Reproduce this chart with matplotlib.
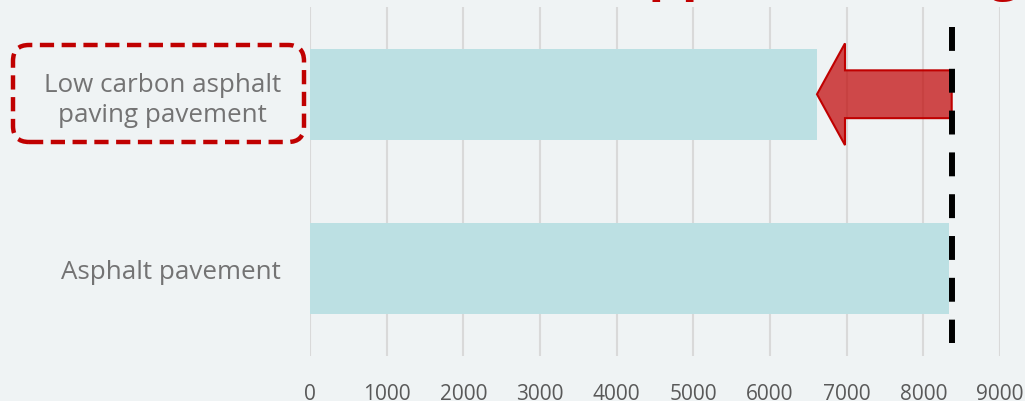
import matplotlib.pyplot as plt
from matplotlib.patches import FancyArrow, FancyBboxPatch

# pavement types and their values
categories = ['Low carbon asphalt\npaving pavement', 'Asphalt pavement']
values = [6613, 8334]
reference_level = 8370
ticks = [0, 1000, 2000, 3000, 4000, 5000, 6000, 7000, 8000, 9000]

bg = '#EFF3F4'
plt.rcParams['font.family'] = ['Open Sans', 'DejaVu Sans']

W, H = 1025, 402
fig = plt.figure(figsize=(W / 100, H / 100), dpi=100, facecolor=bg)
ax = fig.add_axes([310 / W, 1 - 357 / H, 690 / W, 349 / H], facecolor=bg)

ax.barh(range(len(categories)), values, height=0.52, color='#BCE0E3', zorder=2)

ax.set_xlim(0, 9000)
ax.set_ylim(1.5, -0.5)
ax.set_xticks(ticks)
ax.set_xticklabels([str(t) for t in ticks], fontsize=15, color='#595959')
ax.set_yticks(range(len(categories)))
ax.set_yticklabels(categories, fontsize=18.7, color='#737373', multialignment='center',
                   linespacing=1.25)
ax.tick_params(axis='x', length=0, pad=19.5)
ax.tick_params(axis='y', length=0, pad=21)
ax.grid(axis='x', color='#D9D9D9', linewidth=1.5, zorder=0)
for s in ax.spines.values():
    s.set_visible(False)

# dashed reference line at the conventional pavement level
ax.plot([reference_level, reference_level], [-0.386, 1.426], color='black',
        linewidth=4.3, dashes=(4, 3), zorder=7, solid_capstyle='butt')

# arrow pointing from the reference level to the low carbon value
arrow_kw = dict(width=0.274, head_width=0.583, head_length=365, length_includes_head=True)
ax.add_patch(FancyArrow(reference_level, 0, values[0] - reference_level, 0,
                        facecolor='#C00000', alpha=0.7, edgecolor='none', zorder=5,
                        **arrow_kw))
ax.add_patch(FancyArrow(reference_level, 0, values[0] - reference_level, 0,
                        facecolor='none', edgecolor='#C00000', linewidth=1.5, zorder=6,
                        **arrow_kw))

# rounded dashed frame around the low carbon label (display pixels)
box = FancyBboxPatch((13, H - 143), 291, 97,
                     boxstyle='round,pad=0,rounding_size=16',
                     transform=None, facecolor='none', edgecolor='#C00000',
                     linewidth=3.2, linestyle=(0, (3.2, 1.7)), zorder=6)
fig.patches.append(box)

# heading above the chart, mostly beyond the top edge
title = 'Carbon reduction approach using'
prefix = 'Carbon reduction a'
tmp = fig.text(0, 0, prefix, fontsize=38, fontweight='bold')
fig.canvas.draw()
prefix_w = tmp.get_window_extent().width
tmp.remove()
fig.text((648 - prefix_w) / W, 1 + 10.5 / H, title, fontsize=38,
         fontweight='bold', color='#C00000', ha='left', va='baseline')

fig.savefig('out.png', dpi=100, facecolor=bg)
